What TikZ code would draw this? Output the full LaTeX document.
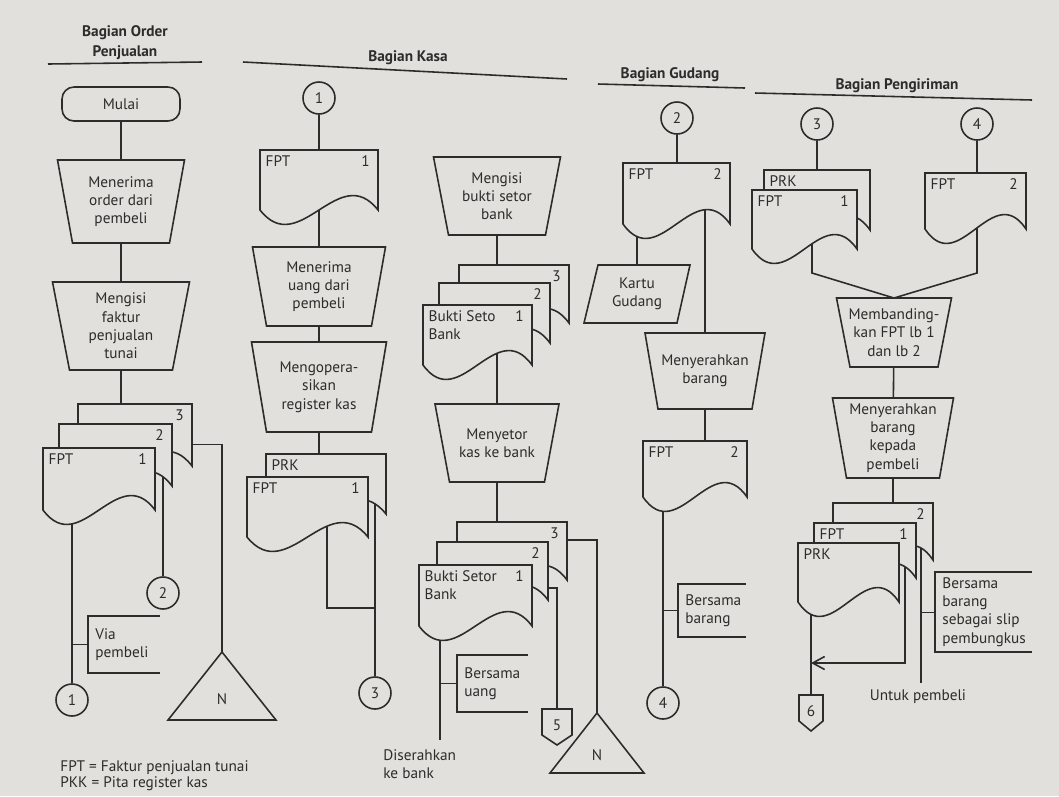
\documentclass[tikz,border=0pt]{standalone}
\usepackage{fontspec}
\setmainfont{PT Sans}
\usetikzlibrary{arrows.meta}
\definecolor{paper}{HTML}{E2E0DC}
\definecolor{ink}{HTML}{2E2C2A}
\newcommand{\fs}{\fontsize{8.7}{10.4}\selectfont}
\pgfdeclarelayer{bg}
\pgfsetlayers{bg,main}
\tikzset{
  shp/.style={draw=ink, fill=paper, line width=0.9pt},
  flow/.style={draw=ink, line width=0.9pt},
  notel/.style={draw=ink, line width=0.5pt},
  hdr/.style={font={\fontsize{8.7}{11.3}\selectfont\bfseries}, align=center},
  hdrline/.style={draw=ink, line width=0.9pt},
  conn/.style={circle, draw=ink, fill=paper, line width=0.9pt, minimum size=0.64cm, inner sep=0pt},
  mulaibox/.style={rectangle, rounded corners=0.24cm, draw=ink, fill=paper, line width=0.9pt,
    minimum width=2.36cm, minimum height=0.68cm},
  boxtxt/.style={align=center, inner sep=0pt},
  doctxt/.style={align=left, inner xsep=3pt, inner ysep=3pt},
  docnum/.style={inner xsep=4.5pt, inner ysep=3pt},
}
% trapezoid: name, cx, y top, half top, half bottom, y bottom, text
\newcommand{\manop}[7]{%
  \filldraw[shp] ({#2-#4},#3) -- ({#2+#4},#3) -- ({#2+#5},#6) -- ({#2-#5},#6) -- cycle;
  \coordinate (#1-t) at (#2,#3);
  \node[boxtxt] (#1) at (#2,{(#3+#6)/2}) {#7};}
% document: name, x left, y top, x right, y bottom, left text, number
\newcommand{\docu}[7]{%
  \filldraw[shp] (#2,#3) -- (#2,#5) .. controls ({#2+(#4-#2)/3},#5+50) and ({#2+2*(#4-#2)/3},#5-50) .. (#4,#5) -- (#4,#3) -- cycle;
  \coordinate (#1) at ({(#2+#4)/2},{#3+0.65*(#5-#3)});
  \node[doctxt, anchor=north west] (#1-l) at (#2,#3) {#6};
  \node[docnum, anchor=north east] (#1-n) at (#4,#3) {#7};}
% file (triangle): name, cx, apex y, half width, base y
\newcommand{\arsip}[5]{%
  \filldraw[shp] (#2,#3) -- ({#2+#4},#5) -- ({#2-#4},#5) -- cycle;
  \coordinate (#1-a) at (#2,#3);
  \node[boxtxt] (#1) at (#2,{#3+0.7*(#5-#3)}) {N};}
% off-page connector: name, cx, y top, half width, text
\newcommand{\offpg}[5]{%
  \filldraw[shp] ({#2-#4},#3) -- ({#2+#4},#3) -- ({#2+#4},#3+26) -- (#2,#3+36) -- ({#2-#4},#3+26) -- cycle;
  \node[boxtxt] (#1) at (#2,#3+16) {#5};}
% annotation: name, x, y top, y bottom, x end, text
\newcommand{\annot}[6]{%
  \draw[shp, fill=none] (#5,#3) -- (#2,#3) -- (#2,#4) -- (#5,#4);
  \coordinate (#1-a) at (#2,{(#3+#4)/2});
  \node[align=left, anchor=west, inner xsep=4pt] (#1) at (#2,{(#3+#4)/2}) {#6};}

\begin{document}
\begin{tikzpicture}[x=0.02cm, y=-0.02cm, every node/.style={font=\fs, text=ink}]

\begin{pgfonlayer}{bg}
  \fill[paper] (0,0) rectangle (1059,796);
\end{pgfonlayer}
\useasboundingbox (0,0) rectangle (1059,796);

% ---------------- headers ---------------------------------------------------
\node[hdr] (hO) at (125,43) {Bagian Order\\Penjualan};
\draw[hdrline] (48,64) -- (202,62);
\node[hdr] (hK) at (408,58) {Bagian Kasa};
\draw[hdrline] (243,62) -- (567,79);
\node[hdr] (hG) at (670,75) {Bagian Gudang};
\draw[hdrline] (598,84) -- (745,88);
\node[hdr] (hP) at (897,86) {Bagian Pengiriman};
\draw[hdrline] (755,93) -- (1032,100);

% ---------------- Bagian Order Penjualan -----------------------------------
\node[mulaibox] (mulai) at (121,104) {Mulai};
\manop{terimaO}{121}{160}{63.5}{48.5}{243}{Menerima\\order dari\\pembeli}
\manop{isiO}{121}{282}{68.5}{51.5}{370}{Mengisi\\faktur\\penjualan\\tunai}
\docu{dO3}{78}{404}{192}{466}{}{3}
\docu{dO2}{59}{424}{172}{486}{}{2}
\docu{dO1}{43}{448}{155}{510}{FPT}{1}
\node[conn] (kO2) at (163,593) {2};
\node[conn] (kO1) at (72,700) {1};
\annot{via}{88}{616}{673}{160}{Via\\pembeli}
\arsip{nO}{222}{652}{54}{720}

% ---------------- Bagian Kasa ----------------------------------------------
\node[conn] (kK1) at (319,98) {1};
\docu{dKF}{260}{150}{378}{210}{FPT}{1}
\manop{terimaU}{319}{247}{66.5}{52.5}{326}{Menerima\\uang dari\\pembeli}
\manop{operasi}{319}{342}{67.5}{52.5}{432}{Mengopera-\\sikan\\register kas}
\docu{dKP}{266}{454}{386}{514}{PRK}{}
\docu{dKF1}{247}{477}{368}{537}{FPT}{1}
\node[conn] (kK3) at (375,693) {3};

\manop{isiB}{497}{157}{63.5}{48.5}{235}{Mengisi\\bukti setor\\bank}
\docu{dB3}{459}{265}{569}{323}{}{3}
\docu{dB2}{439}{283}{550}{343}{}{2}
\docu{dB1}{423}{305}{532}{365}{Bukti Seto\\Bank}{1}
\manop{setor}{497}{404}{62}{47.5}{482}{Menyetor\\kas ke bank}
\docu{dC3}{457}{522}{567}{580}{}{3}
\docu{dC2}{437}{542}{548}{600}{}{2}
\docu{dC1}{419}{565}{532}{626}{Bukti Setor\\Bank}{1}
\annot{uang}{457}{655}{712}{528}{Bersama\\uang}
\offpg{op5}{557}{709}{15}{5}
\arsip{nK}{597}{713}{47}{773}
\node[anchor=north west, align=left, inner sep=0pt] (serahK) at (383,749) {Diserahkan\\ke bank};

% ---------------- Bagian Gudang --------------------------------------------
\node[conn] (kG2) at (677,118) {2};
\docu{dG1}{623}{163}{730}{224}{FPT}{2}
\filldraw[shp] (598,265) -- (690,265) -- (677,323) -- (584,323) -- cycle;
\node[boxtxt] (kartu) at (637,294) {Kartu\\Gudang};
\manop{serahB}{705}{333}{60}{47}{409}{Menyerahkan\\barang}
\docu{dG2}{643}{441}{747}{497}{FPT}{2}
\annot{brg}{678}{584}{637}{746}{Bersama\\barang}
\node[conn] (kG4) at (663,703) {4};

% ---------------- Bagian Pengiriman ----------------------------------------
\node[conn] (kP3) at (817,124) {3};
\node[conn] (kP4) at (977,124) {4};
\docu{dPP}{764}{170}{870}{230}{PRK}{}
\docu{dPF1}{752}{190}{857}{249}{FPT}{1}
\docu{dPF2}{925}{173}{1026}{229}{FPT}{2}
\manop{banding}{894}{298}{57.5}{44}{367}{Membanding-\\kan FPT lb 1\\dan lb 2}
\manop{serahP}{893}{398}{60.5}{46.5}{478}{Menyerahkan\\barang\\kepada\\pembeli}
\docu{dQ2}{833}{503}{933}{560}{}{2}
\docu{dQ1}{814}{523}{916}{578}{FPT}{1}
\docu{dQ0}{798}{543}{899}{602}{PRK}{}
\annot{slip}{935}{572}{652}{1032}{Bersama\\barang\\sebagai slip\\pembungkus}
\offpg{op6}{811}{695}{12}{6}
\node (untuk) at (918,697) {Untuk pembeli};

% ---------------- legend ---------------------------------------------------
\node[anchor=north west, align=left, inner sep=0pt, font={\fontsize{8.7}{9.3}\selectfont}] (legend) at (60,760)
  {FPT = Faktur penjualan tunai\\PKK = Pita register kas};

% ---------------- flow lines (behind the shapes) ---------------------------
\coordinate (kj) at (327,608);
\coordinate (c3x) at (560,540);
\coordinate (c2x) at (540,588);
\coordinate (cend) at (440,740);
\coordinate (pj1) at (812,273);
\coordinate (pj2) at (977,273);
\coordinate (qa) at (905,663);
\coordinate (qend) at (921,683);
\begin{pgfonlayer}{bg}
  \draw[flow] (mulai) -- (terimaO) -- (isiO) -- (isiO |- dO3);
  \draw[flow] (kO1) -- (kO1 |- dO1);
  \draw[flow] (kO2) -- (kO2 |- dO2);
  \draw[flow] (dO3) -| (nO-a);
  \draw[notel] (kO1 |- via-a) -- (via-a);

  \draw[flow] (kK1) -- (terimaU) -- (operasi) -- (operasi |- dKP);
  \draw[flow] (dKP -| kK3) -- (kK3);
  \draw[flow] (dKF1 -| kj) |- (kj -| kK3);
  \draw[flow] (isiB) -- (setor) -- (setor |- dC3);
  \draw[flow] (dC1 -| cend) -- (cend);
  \draw[notel] (cend |- uang-a) -- (uang-a);
  \draw[flow] (c3x) -| (nK-a);
  \draw[flow] (c2x) -| (op5);

  \draw[flow] (kG2) -- (kG2 |- dG1);
  \draw[flow] (kartu) -- (kartu |- dG1);
  \draw[flow] (serahB) -- (serahB |- dG1);
  \draw[flow] (serahB) -- (serahB |- dG2);
  \draw[flow] (kG4) -- (kG4 |- dG2);
  \draw[notel] (kG4 |- brg-a) -- (brg-a);

  \draw[flow] (kP3) -- (kP3 |- dPP);
  \draw[flow] (kP4) -- (kP4 |- dPF2);
  \draw[flow] (dPF1 -| pj1) -- (pj1) -- (banding-t) -- (pj2) -- (dPF2 -| pj2);
  \draw[flow] (banding) -- (serahP) -- (serahP |- dQ2);
  \draw[flow] (op6) -- (op6 |- dQ0);
  \draw[flow, -{Straight Barb[length=2.4mm, width=2.6mm]}] (dQ1 -| qa) -- (qa) -- (qa -| op6);
  \draw[flow] (dQ2 -| qend) -- (qend);
  \draw[notel] (qend |- slip-a) -- (slip-a);
\end{pgfonlayer}

\end{tikzpicture}
\end{document}
